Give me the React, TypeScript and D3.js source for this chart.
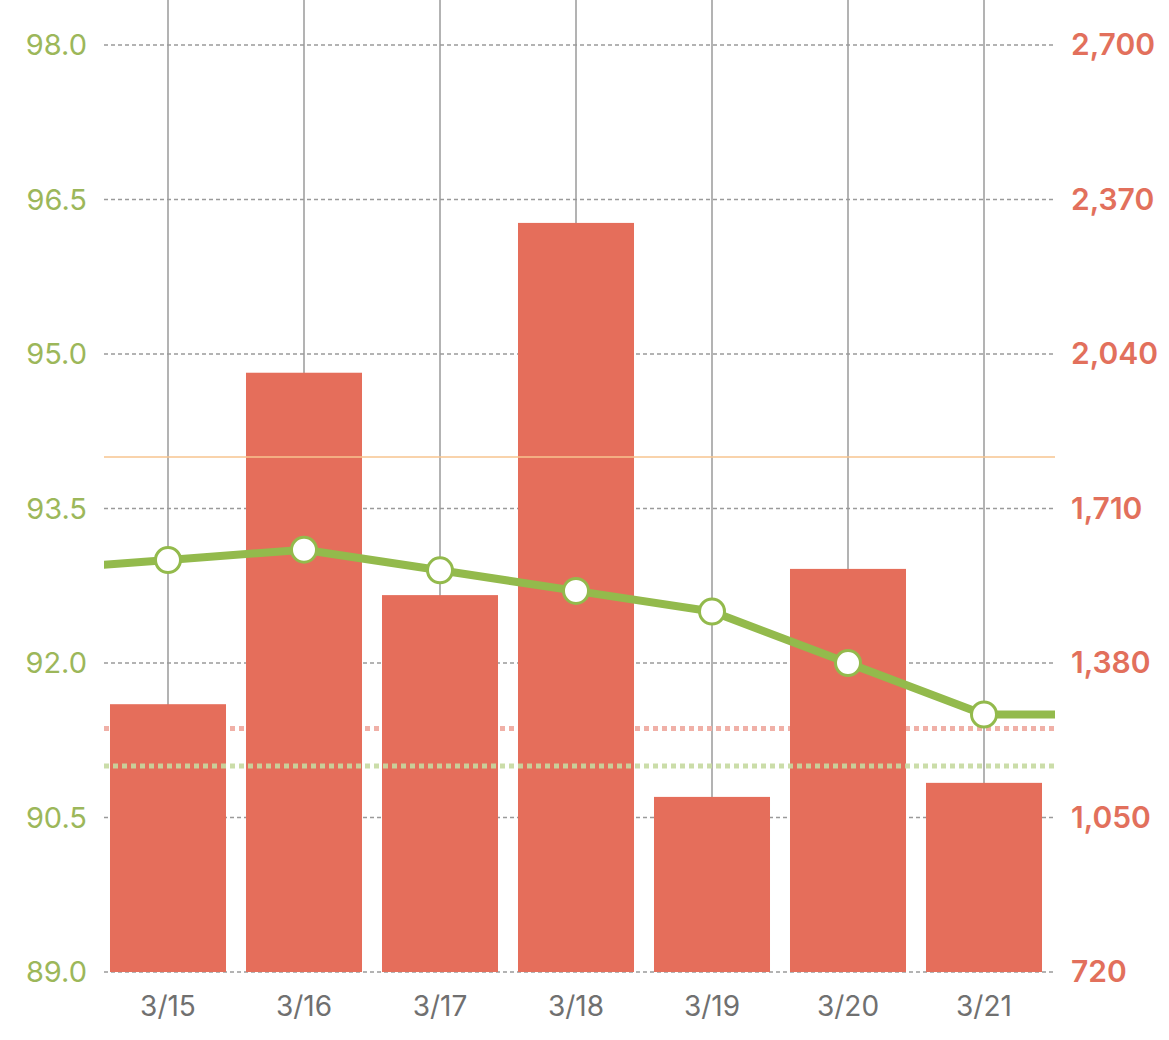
import * as d3 from "d3";
import { useEffect, useRef } from "react";

const dates = ["3/15", "3/16", "3/17", "3/18", "3/19", "3/20", "3/21"];
const barValues = [1292, 2000, 1525, 2320, 1094, 1581, 1124];
const lineValues = [93.0, 93.1, 92.9, 92.7, 92.5, 92.0, 91.5];
// values just outside the visible range (3/14 and 3/22), line gets clipped
const lineBefore = 92.9;
const lineAfter = 91.5;

const leftTicks = [89.0, 90.5, 92.0, 93.5, 95.0, 96.5, 98.0];
const rightTicks = [720, 1050, 1380, 1710, 2040, 2370, 2700];

const leftTarget = 94.0;
const leftLimit = 91.0;
const rightLimit = 1240;

export default function App() {
  const svgRef = useRef<SVGSVGElement | null>(null);

  useEffect(() => {
    const svg = d3.select(svgRef.current);
    const width = 1169;
    const height = 1040;
    const plot = { left: 104, right: 1055, top: 45, bottom: 972 };

    svg.selectAll("*").remove();
    svg.attr("width", width).attr("height", height);

    const x = d3
      .scaleBand()
      .domain(dates)
      .range([100, 1052])
      .paddingInner(0.147)
      .paddingOuter(0.0735);

    const xi = d3
      .scaleLinear()
      .domain([-0.5, dates.length - 0.5])
      .range([100, 1052]);

    const yLeft = d3.scaleLinear().domain([89, 98]).range([plot.bottom, plot.top]);
    const yRight = d3.scaleLinear().domain([720, 2700]).range([plot.bottom, plot.top]);

    const font = "Inter, 'Noto Sans', sans-serif";

    // vertical grid
    svg
      .selectAll(".vgrid")
      .data(dates)
      .enter()
      .append("line")
      .attr("x1", (_, i) => xi(i))
      .attr("x2", (_, i) => xi(i))
      .attr("y1", 0)
      .attr("y2", plot.bottom)
      .attr("stroke", "#9a9a9a")
      .attr("stroke-width", 1.5);

    // horizontal grid
    svg
      .selectAll(".hgrid")
      .data(leftTicks)
      .enter()
      .append("line")
      .attr("x1", plot.left)
      .attr("x2", plot.right)
      .attr("y1", (d) => yLeft(d))
      .attr("y2", (d) => yLeft(d))
      .attr("stroke", "#9a9a9a")
      .attr("stroke-width", 1.3)
      .attr("stroke-dasharray", "4,3");

    // pink limit line (behind bars)
    svg
      .append("line")
      .attr("x1", plot.left)
      .attr("x2", plot.right)
      .attr("y1", yRight(rightLimit))
      .attr("y2", yRight(rightLimit))
      .attr("stroke", "#f0b0a7")
      .attr("stroke-width", 5)
      .attr("stroke-dasharray", "5,4");

    // bars
    svg
      .selectAll(".bar")
      .data(barValues)
      .enter()
      .append("rect")
      .attr("x", (_, i) => x(dates[i]) as number)
      .attr("width", x.bandwidth())
      .attr("y", (d) => yRight(d))
      .attr("height", (d) => plot.bottom - yRight(d))
      .attr("fill", "#e56e5b");

    // green limit line (over bars)
    svg
      .append("line")
      .attr("x1", plot.left)
      .attr("x2", plot.right)
      .attr("y1", yLeft(leftLimit))
      .attr("y2", yLeft(leftLimit))
      .attr("stroke", "#c5d9a0")
      .attr("stroke-opacity", 0.9)
      .attr("stroke-width", 5)
      .attr("stroke-dasharray", "5,4");

    // orange target line
    svg
      .append("line")
      .attr("x1", plot.left)
      .attr("x2", plot.right)
      .attr("y1", yLeft(leftTarget))
      .attr("y2", yLeft(leftTarget))
      .attr("stroke", "#f7c48f")
      .attr("stroke-width", 1.5);

    // line series
    svg
      .append("clipPath")
      .attr("id", "plot-clip")
      .append("rect")
      .attr("x", plot.left)
      .attr("y", 0)
      .attr("width", plot.right - plot.left)
      .attr("height", height);

    const linePoints = [lineBefore, ...lineValues, lineAfter].map((v, i) => ({
      i: i - 1,
      v,
    }));

    const line = d3
      .line<{ i: number; v: number }>()
      .x((d) => xi(d.i))
      .y((d) => yLeft(d.v));

    svg
      .append("path")
      .datum(linePoints)
      .attr("clip-path", "url(#plot-clip)")
      .attr("fill", "none")
      .attr("stroke", "#93ba4c")
      .attr("stroke-width", 8)
      .attr("stroke-linejoin", "round")
      .attr("d", line);

    svg
      .selectAll(".dot")
      .data(lineValues)
      .enter()
      .append("circle")
      .attr("cx", (_, i) => xi(i))
      .attr("cy", (d) => yLeft(d))
      .attr("r", 12.5)
      .attr("fill", "#ffffff")
      .attr("stroke", "#93ba4c")
      .attr("stroke-width", 3);

    // axes labels
    svg
      .selectAll(".left-label")
      .data(leftTicks)
      .enter()
      .append("text")
      .attr("x", 87)
      .attr("y", (d) => yLeft(d) + 10)
      .attr("text-anchor", "end")
      .attr("font-family", font)
      .attr("font-size", "29px")
      .attr("fill", "#9cb75a")
      .text((d) => d.toFixed(1));

    svg
      .selectAll(".right-label")
      .data(rightTicks)
      .enter()
      .append("text")
      .attr("x", 1071)
      .attr("y", (_, i) => yLeft(leftTicks[i]) + 10)
      .attr("text-anchor", "start")
      .attr("font-family", font)
      .attr("font-size", "30px")
      .attr("font-weight", 600)
      .attr("fill", "#e2705c")
      .text((d) => d3.format(",")(d));

    svg
      .selectAll(".x-label")
      .data(dates)
      .enter()
      .append("text")
      .attr("x", (_, i) => xi(i))
      .attr("y", 1016)
      .attr("text-anchor", "middle")
      .attr("font-family", font)
      .attr("font-size", "28px")
      .attr("fill", "#707070")
      .text((d) => d);
  }, []);

  return (
    <svg
      ref={svgRef}
      style={{ position: "absolute", left: 0, top: 0, display: "block" }}
    ></svg>
  );
}
